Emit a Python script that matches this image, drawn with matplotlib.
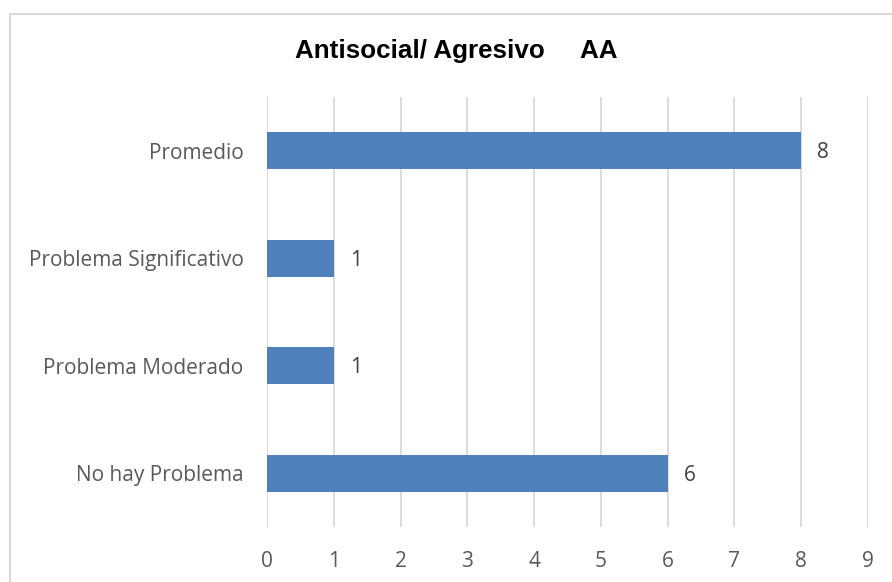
import matplotlib
matplotlib.use("Agg")
import matplotlib.pyplot as plt
from matplotlib.patches import Rectangle

categories = ["No hay Problema", "Problema Moderado", "Problema Significativo", "Promedio"]
values = [6, 1, 1, 8]
xticks = list(range(0, 10))
title = "Antisocial/ Agresivo     AA"

W, H = 892, 582
fig = plt.figure(figsize=(W / 100, H / 100), dpi=100)
ax = fig.add_axes([267 / W, 1 - 527 / H, (868 - 267) / W, (527 - 97) / H])

ax.barh(range(len(categories)), values, height=0.345, color="#4F81BD", zorder=3)
ax.set_xlim(0, 9)
ax.set_ylim(-0.5, len(categories) - 0.5)
ax.set_xticks(xticks)
ax.set_yticks(range(len(categories)))
ax.set_yticklabels(categories)
ax.grid(axis="x", color="#D9D9D9", linewidth=1.3, zorder=0)
ax.grid(axis="y", visible=False)
for s in ax.spines.values():
    s.set_visible(False)
ax.tick_params(axis="both", length=0, colors="#595959", labelsize=15)
ax.tick_params(axis="x", pad=17)
ax.tick_params(axis="y", pad=17)
for lab in ax.get_xticklabels() + ax.get_yticklabels():
    lab.set_fontfamily("Open Sans")

for i, v in enumerate(values):
    ax.annotate(str(v), (v, i), xytext=(16, -2), textcoords="offset pixels",
                va="center", ha="left", fontsize=15, color="#404040", family="Open Sans")

fig.text(456 / W, 1 - 51 / H, title, ha="center", va="center", fontsize=18.7,
         fontweight="bold", family="Liberation Sans", color="black")

fig.patches.append(Rectangle((10 / W, -0.05), 1.2, 1 - 14 / H + 0.05, transform=fig.transFigure,
                             fill=False, edgecolor="#D9D9D9", linewidth=1.5))

fig.savefig("out.png", dpi=100)
